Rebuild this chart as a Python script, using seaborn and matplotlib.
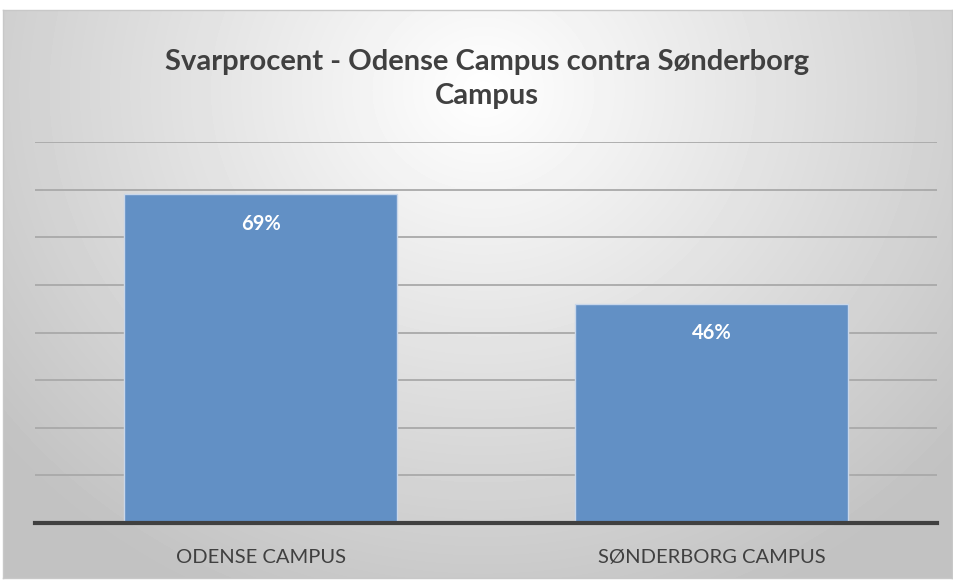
import numpy as np
import pandas as pd
import matplotlib.pyplot as plt
import seaborn as sns

# data
campuses = ["ODENSE CAMPUS", "SØNDERBORG CAMPUS"]
response_rate = [0.69, 0.46]
bar_labels = ["69%", "46%"]
title = "Svarprocent - Odense Campus contra Sønderborg\nCampus"

df = pd.DataFrame({"Campus": campuses, "Rate": response_rate})

sns.set_style("white")
plt.rcParams["font.family"] = ["Lato", "DejaVu Sans"]

fig = plt.figure(figsize=(9.54, 5.8), dpi=100)

# radial gradient background inside a thin frame
bg = fig.add_axes([3 / 954, 2 / 580, 949 / 954, 568 / 580], zorder=0)
yy, xx = np.mgrid[0:568, 0:949]
d = np.sqrt(((xx - 480) / 620.0) ** 2 + ((yy - 80) / 560.0) ** 2)
shade = np.clip(1.0 - 0.24 * d, 0.76, 1.0)
bg.imshow(shade, cmap="gray", vmin=0, vmax=1, aspect="auto", interpolation="bilinear")
bg.set_xticks([])
bg.set_yticks([])
for s in bg.spines.values():
    s.set_color("#c8c8c8")
    s.set_linewidth(1)

ax = fig.add_axes([35 / 954, 57 / 580, 902 / 954, 381 / 580], zorder=1)
ax.patch.set_alpha(0)

sns.barplot(data=df, x="Campus", y="Rate", color="#6290C5", width=0.605,
            saturation=1, edgecolor="#c9d7ea", linewidth=1, ax=ax, zorder=3)

ax.set_ylim(0, 0.8)
ax.set_xlim(-0.5, 1.5)
ax.set_yticks(np.arange(0, 0.81, 0.1))
ax.yaxis.grid(True, color="#a9a9a9", linewidth=1.3, zorder=1)
ax.set_axisbelow(True)
ax.tick_params(axis="y", left=False, labelleft=False)
ax.tick_params(axis="x", bottom=False, labelsize=14.5, labelcolor="#404040", pad=15)
ax.set_xlabel("")
ax.set_ylabel("")
for s in ["top", "right", "left"]:
    ax.spines[s].set_visible(False)
ax.spines["bottom"].set_color("#404040")
ax.spines["bottom"].set_linewidth(3)
ax.spines["bottom"].set_zorder(5)

for i, lab in enumerate(bar_labels):
    ax.annotate(lab, (i, response_rate[i]), xytext=(0, -21), textcoords="offset points",
                ha="center", va="center", color="white", fontsize=14.5, fontweight="bold")

fig.text(487 / 954, 1 - 79 / 580, title, ha="center", va="center", fontsize=21,
         fontweight="bold", color="#404040", linespacing=1.35)

fig.savefig("out.png", dpi=100, facecolor="white")
